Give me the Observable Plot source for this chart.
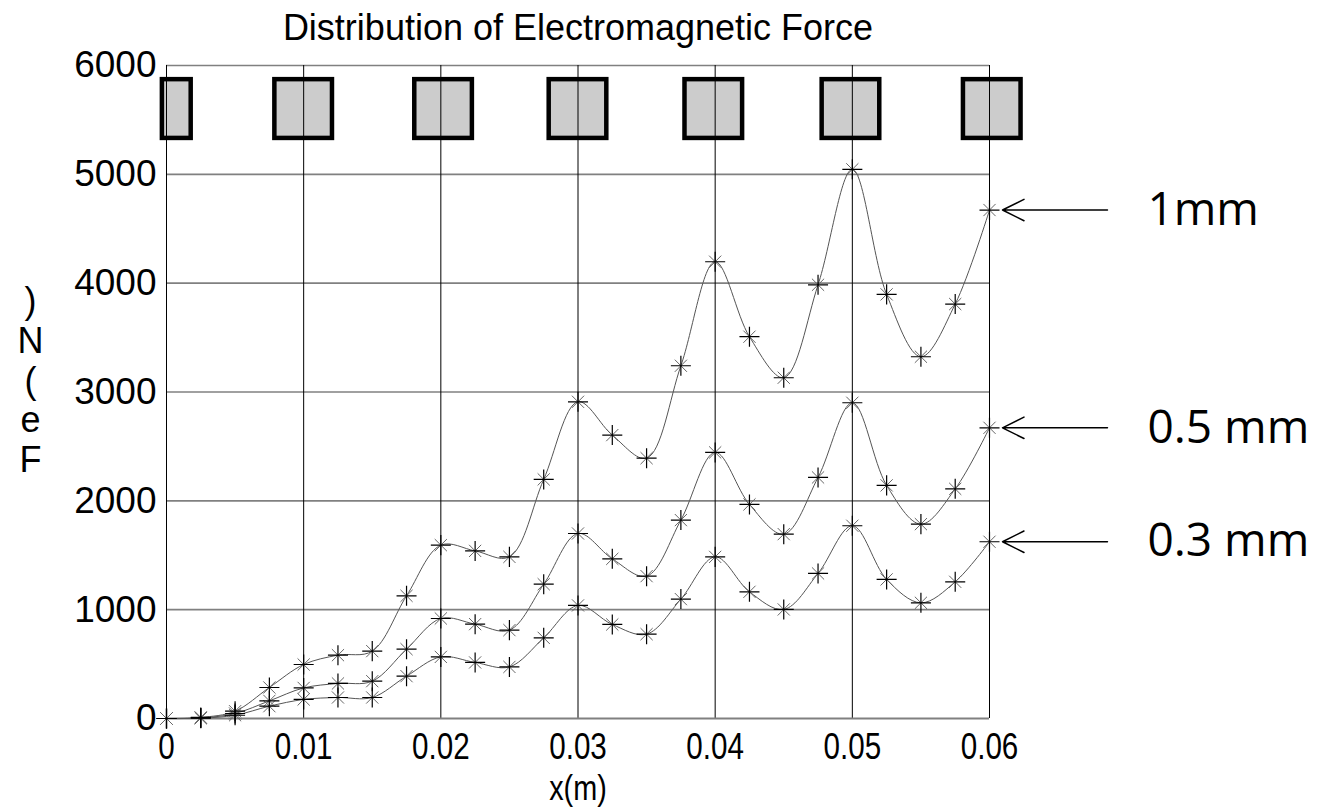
<!DOCTYPE html>
<html><head><meta charset="utf-8">
<script src="https://cdn.jsdelivr.net/npm/d3@7"></script>
<script src="https://cdn.jsdelivr.net/npm/@observablehq/plot@0.6"></script>
<style>body{margin:0;background:#fff}</style>
</head><body><div id="chart"></div>
<script>
// ---- data ----
const xs = [0, 0.0025, 0.005, 0.0075, 0.01, 0.0125, 0.015, 0.0175, 0.02, 0.0225, 0.025, 0.0275, 0.03,
            0.0325, 0.035, 0.0375, 0.04, 0.0425, 0.045, 0.0475, 0.05, 0.0525, 0.055, 0.0575, 0.06];
const force1mm  = [0, 10, 67, 285, 496, 582, 619, 1127, 1593, 1540, 1485, 2197, 2910,
                   2604, 2392, 3241, 4197, 3508, 3131, 3985, 5046, 3897, 3324, 3808, 4672];
const force05mm = [0, 5, 46, 162, 281, 322, 343, 637, 919, 867, 812, 1234, 1700,
                   1467, 1308, 1823, 2445, 1967, 1694, 2215, 2901, 2142, 1786, 2110, 2671];
const force03mm = [0, 3, 30, 113, 175, 193, 193, 389, 566, 515, 474, 741, 1039,
                   864, 775, 1097, 1485, 1164, 1002, 1333, 1771, 1278, 1063, 1256, 1624];
const seriesNames = ["1mm", "0.5 mm", "0.3 mm"];
const xTicks = [0, 0.01, 0.02, 0.03, 0.04, 0.05, 0.06];
const xTickLabels = ["0", "0.01", "0.02", "0.03", "0.04", "0.05", "0.06"];
const yTicks = [0, 1000, 2000, 3000, 4000, 5000, 6000];
const coilStarts = [-0.0003, 0.0079, 0.0181, 0.0279, 0.0378, 0.0478, 0.0581];
const coilEnds   = [0.0018, 0.0121, 0.0223, 0.0321, 0.0420, 0.0520, 0.0623];
const coilLow = 5330, coilHigh = 5870;
const titleText = "Distribution of Electromagnetic Force";
const xLabelText = "x(m)";
const yLabelText = ")\nN\n(\ne\nF";

// ---- build tables ----
const seriesValues = [force1mm, force05mm, force03mm];
const rows = seriesValues.flatMap((vals, s) => xs.map((x, i) => ({x, f: vals[i], series: seriesNames[s]})));
const coils = coilStarts.map((x1, i) => ({x1, x2: coilEnds[i], y1: coilLow, y2: coilHigh}));
const xEnd = xs[xs.length - 1];
const ends = seriesValues.map((vals, s) => ({name: seriesNames[s], y: vals[vals.length - 1]}));
const arrowGap = 0.0086;

const chart = Plot.plot({
  width: 1328, height: 808,
  marginLeft: 166, marginRight: 339, marginTop: 65, marginBottom: 90,
  x: {domain: [0, 0.06]},
  y: {domain: [0, 6000]},
  style: {fontFamily: "'Liberation Sans', Arial, sans-serif", background: "white", overflow: "visible", color: "black"},
  marks: [
    Plot.rect(coils, {x1: "x1", x2: "x2", y1: "y1", y2: "y2", fill: "#cccccc", stroke: "black", strokeWidth: 4.5}),
    Plot.gridY(yTicks.filter(d => d > 0), {stroke: "#808080", strokeOpacity: 1, strokeWidth: 1.6}),
    Plot.gridX(xTicks.filter(d => d > 0), {stroke: "black", strokeOpacity: 1, strokeWidth: 1}),
    Plot.ruleY([0], {stroke: "#808080", strokeWidth: 2}),
    Plot.ruleX([0], {stroke: "black", strokeWidth: 1}),
    Plot.axisY({ticks: yTicks, tickSize: 0, tickPadding: 10, fontSize: 37, label: null, tickFormat: d => String(d)}),
    Plot.axisX({ticks: xTicks, tickSize: 0, tickPadding: 14, fontSize: 37, label: null,
                tickFormat: d => xTickLabels[xTicks.indexOf(d)]}),
    Plot.line(rows, {x: "x", y: "f", z: "series", curve: "catmull-rom", stroke: "#555", strokeWidth: 1}),
    Plot.dot(rows, {x: "x", y: "f", symbol: "times", r: 5.6, stroke: "#666", fill: "none", strokeWidth: 1}),
    Plot.dot(rows, {x: "x", y: "f", symbol: "plus", r: 6.5, stroke: "black", fill: "none", strokeWidth: 1.2}),
    Plot.arrow(ends, {x1: () => xEnd + arrowGap, x2: () => xEnd, y1: "y", y2: "y", insetEnd: 13,
                      headLength: 24, headAngle: 53, stroke: "black", strokeWidth: 1.5}),
    Plot.text(ends, {x: () => xEnd + arrowGap, y: "y", text: "name", dx: 40, textAnchor: "start",
                     fontSize: 46, fontFamily: "'Open Sans', Lato, sans-serif", fill: "black"}),
    Plot.text([titleText], {text: d => d, frameAnchor: "top", lineAnchor: "middle", dy: -37, fontSize: 36, fill: "black"}),
    Plot.text([xLabelText], {text: d => d, frameAnchor: "bottom", lineAnchor: "middle", dy: 70, fontSize: 36, fill: "black"}),
    Plot.text([yLabelText], {text: d => d, frameAnchor: "left", dx: -136, dy: -12, textAnchor: "middle",
                             fontSize: 36, lineHeight: 1.1, fill: "black"})
  ]
});
document.getElementById("chart").appendChild(chart);

// condensed look for x tick labels and x label
chart.querySelectorAll("text").forEach(el => {
  const inXAxis = el.closest('g[aria-label="x-axis tick label"]');
  if (inXAxis || el.textContent === xLabelText) {
    const t = el.getAttribute("transform") || "";
    el.setAttribute("transform", t + " scale(0.8,1)");
  }
});
</script>
</body></html>
